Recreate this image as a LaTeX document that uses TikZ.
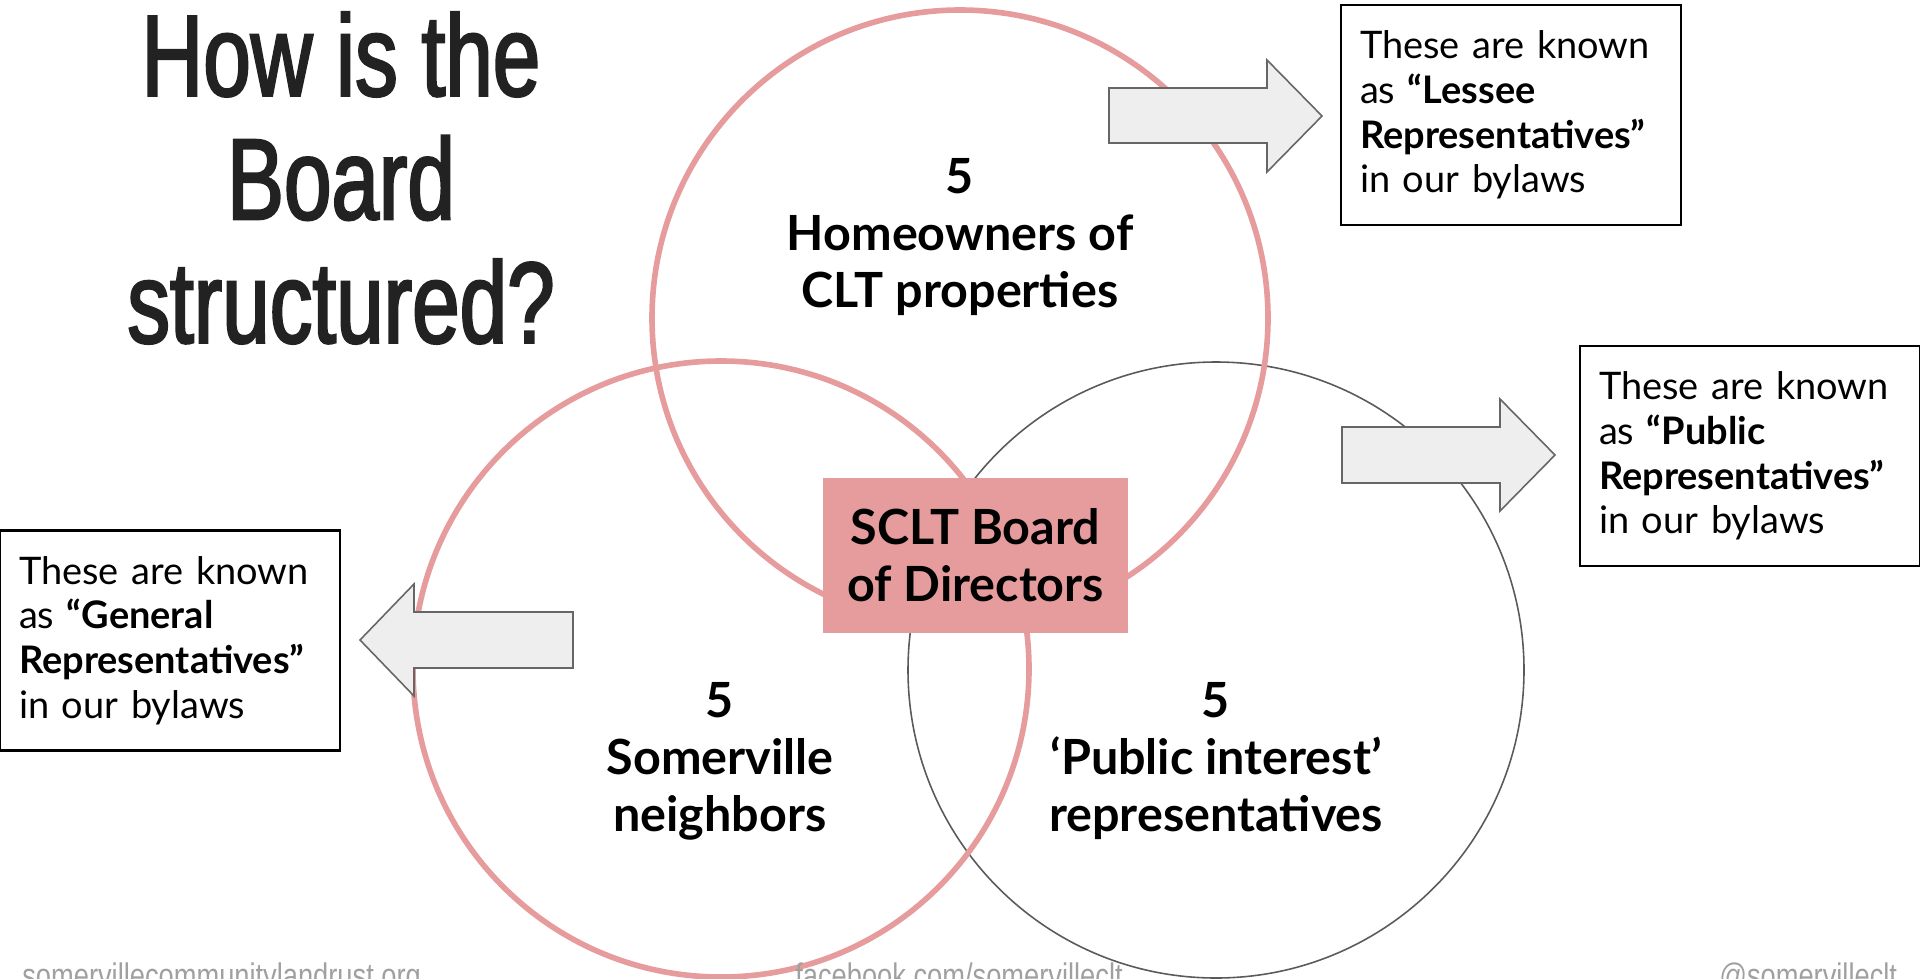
\documentclass[tikz,border=0pt]{standalone}
\usepackage{fontspec}
\setmainfont{Lato}
\newfontfamily\titlefont[FakeStretch=0.74,FakeBold=2]{Liberation Sans}
\newfontfamily\footfont[FakeStretch=0.8]{Liberation Sans}
\definecolor{ringpink}{RGB}{230,155,157}
\definecolor{ringgray}{RGB}{90,90,90}
\definecolor{arrowfill}{RGB}{238,238,238}
\definecolor{arrowline}{RGB}{102,102,102}
\definecolor{titlegray}{RGB}{34,34,34}
\definecolor{footgray}{RGB}{160,160,160}
\tikzset{
  pinkring/.style={draw=ringpink,line width=3.2pt},
  grayring/.style={draw=ringgray,line width=0.9pt},
  blockarrow/.style={fill=arrowfill,draw=arrowline,line width=0.9pt,line join=miter},
  count/.style={font=\fontsize{27.6}{32.5}\selectfont\bfseries,align=center},
  callout/.style={draw=black,line width=1.6pt,fill=white,text width=6.04cm,inner xsep=0.38cm,
    minimum height=4.4cm,align=left,font=\fontsize{21.6}{25.5}\selectfont},
  footer/.style={font=\footfont\fontsize{19.4}{20}\selectfont,text=footgray,anchor=base west,inner sep=0pt}
}
\begin{document}
\begin{tikzpicture}[x=0.02cm,y=-0.02cm]
		\useasboundingbox (0,0) rectangle (1920,978);
		\clip (0,0) rectangle (1920,978);
		\coordinate (H) at (960,318);
		\coordinate (S) at (721,669);
		\coordinate (P) at (1216,670);

		% the three rings
		\draw[grayring] (P) circle (308);
		\draw[pinkring] (H) circle (308);
		\draw[pinkring] (S) circle (308);

		\node[count] (home) at (960,237) {5\\Homeowners of\\CLT properties};
		\node[count] (neigh) at (720,761) {5\\Somerville\\neighbors};
		\node[count] (pub) at (1216,761) {5\\‘Public interest’\\representatives};

		\node[count,fill=ringpink,minimum width=6.1cm,minimum height=3.1cm] (board) at (975.5,555.5) {SCLT Board\\of Directors};

		% block arrows
		\draw[blockarrow] (1109,88) -- (1267,88) -- (1267,60) -- (1322,116) -- (1267,172) -- (1267,143) -- (1109,143) -- cycle;
		\draw[blockarrow] (1342,427) -- (1500,427) -- (1500,399) -- (1555,455) -- (1500,511) -- (1500,483) -- (1342,483) -- cycle;
		\draw[blockarrow] (573,612) -- (414,612) -- (414,584) -- (360,640) -- (414,696) -- (414,668) -- (573,668) -- cycle;

		\node[callout] (lessee) at (1511,115) {These are known\\as \textbf{“Lessee}\\\textbf{Representatives”}\\in our bylaws};
		\node[callout] (public) at (1750,456) {These are known\\as \textbf{“Public}\\\textbf{Representatives”}\\in our bylaws};
		\node[callout] (general) at (170,640.5) {These are known\\as \textbf{“General}\\\textbf{Representatives”}\\in our bylaws};

		\node[font=\titlefont\fontsize{65.7}{70.3}\selectfont,text=titlegray,align=center] (title) at (341,178) {How is the\\Board\\structured?};

		\node[footer] (web) at (22,987) {somervillecommunitylandrust.org};
		\node[footer] (fb) at (795,987) {facebook.com/somervilleclt};
		\node[footer] (tw) at (1719,987) {@somervilleclt};
\end{tikzpicture}
\end{document}
